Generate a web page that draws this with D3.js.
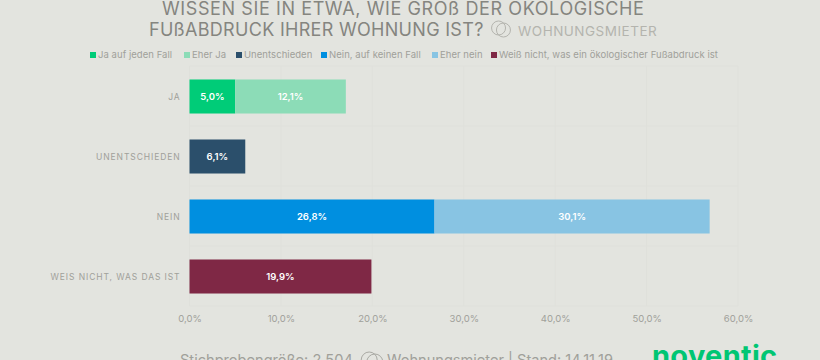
<!DOCTYPE html>
<html>
<head>
<meta charset="utf-8">
<script src="https://cdn.jsdelivr.net/npm/d3@7"></script>
<style>
html, body { margin: 0; padding: 0; background: #e3e4df; overflow: hidden; }
svg { display: block; }
text { font-family: "Inter", sans-serif; }
.domain { display: none; }
</style>
</head>
<body>
<div id="chart"></div>
<script>
const categories = ['JA', 'UNENTSCHIEDEN', 'NEIN', 'WEIS NICHT, WAS DAS IST'];
const seriesNames = ['Ja auf jeden Fall', 'Eher Ja', 'Unentschieden', 'Nein, auf keinen Fall', 'Eher nein', 'Weiß nicht, was ein ökologischer Fußabdruck ist'];
const seriesColors = ['#00cc78', '#8cdcb7', '#2b4f6b', '#008fe0', '#88c4e3', '#7f2845'];
const jaAufJeden = [5.0, 0, 0, 0];
const eherJa = [12.1, 0, 0, 0];
const unentschieden = [0, 6.1, 0, 0];
const neinAufKeinen = [0, 0, 26.8, 0];
const eherNein = [0, 0, 30.1, 0];
const weissNicht = [0, 0, 0, 19.9];
const xTicks = [0, 10, 20, 30, 40, 50, 60];
const legendX = [90, 184, 236, 321, 432, 491];

const allSeries = [jaAufJeden, eherJa, unentschieden, neinAufKeinen, eherNein, weissNicht];
const width = 820, height = 360;
const comma = v => v.toFixed(1).replace('.', ',') + '%';

const svg = d3.select('#chart').append('svg')
  .attr('width', width)
  .attr('height', height);

const x = d3.scaleLinear().domain([0, 60]).range([189.5, 738]);
const y = d3.scaleBand().domain(categories).range([66.5, 306.5]).paddingInner(0.433).paddingOuter(0.2165);
const band = d3.scaleBand().domain(categories).range([66, 306]);

// title
const titleG = svg.append('g').attr('fill', '#85857f').style('font-size', '18px');
titleG.append('text').attr('x', 162).attr('y', 15).style('letter-spacing', '0.6px').text('WISSEN SIE IN ETWA, WIE GROß DER ÖKOLOGISCHE');
titleG.append('text').attr('x', 149).attr('y', 36).style('letter-spacing', '0.3px').text('FUßABDRUCK IHRER WOHNUNG IST?');

function rings(g, cx, cy, r, color) {
  g.append('circle').attr('cx', cx - r * 0.35).attr('cy', cy - 1).attr('r', r).attr('fill', 'none').attr('stroke', color);
  g.append('circle').attr('cx', cx + r * 0.35).attr('cy', cy + 1).attr('r', r).attr('fill', 'none').attr('stroke', color);
}
rings(svg, 501, 29, 7, '#b4b4ae');
svg.append('text').attr('x', 518).attr('y', 36).attr('fill', '#b4b4ae')
  .style('font-size', '13.5px').style('letter-spacing', '0.5px').text('WOHNUNGSMIETER');

// legend
const legend = svg.append('g').selectAll('g').data(seriesNames).join('g')
  .attr('transform', (d, i) => `translate(${legendX[i]},50)`);
legend.append('rect').attr('y', 2).attr('width', 6).attr('height', 6).attr('fill', (d, i) => seriesColors[i]);
legend.append('text').attr('x', 8).attr('y', 7.5).attr('fill', '#a0a09a')
  .style('font-size', '9.5px').style('letter-spacing', '0.05px').text(d => d);

// grid
const grid = svg.append('g').attr('stroke', '#dfe0db');
grid.selectAll('line.v').data(xTicks).join('line').attr('class', 'v')
  .attr('x1', d => x(d)).attr('x2', d => x(d)).attr('y1', 66).attr('y2', 306);
grid.selectAll('line.h').data(d3.range(categories.length + 1)).join('line').attr('class', 'h')
  .attr('x1', x(0)).attr('x2', x(60)).attr('y1', d => 66 + d * band.bandwidth()).attr('y2', d => 66 + d * band.bandwidth());

// bars
const table = categories.map((c, i) => {
  const row = { cat: c };
  seriesNames.forEach((s, j) => { row[s] = allSeries[j][i]; });
  return row;
});
const stacked = d3.stack().keys(seriesNames)(table);
const layers = svg.append('g').selectAll('g').data(stacked).join('g')
  .attr('fill', (d, i) => seriesColors[i]);
layers.selectAll('rect').data(d => d.filter(p => p[1] > p[0])).join('rect')
  .attr('x', d => x(d[0]))
  .attr('y', d => y(d.data.cat))
  .attr('width', d => x(d[1]) - x(d[0]))
  .attr('height', y.bandwidth());
layers.selectAll('text').data(d => d.filter(p => p[1] > p[0])).join('text')
  .attr('x', d => x((d[0] + d[1]) / 2))
  .attr('y', d => y(d.data.cat) + y.bandwidth() / 2 + 3.5)
  .attr('text-anchor', 'middle')
  .attr('fill', '#fff')
  .style('font-size', '9.5px')
  .style('font-weight', 600)
  .text(d => comma(d[1] - d[0]));

// axes
const yAxis = svg.append('g').attr('transform', 'translate(189.5,1)')
  .call(d3.axisLeft(band).tickSize(0).tickPadding(9));
yAxis.selectAll('text').attr('fill', '#a0a09a').style('font-size', '8.5px').style('letter-spacing', '0.9px');

const xAxis = svg.append('g').attr('transform', 'translate(0,308)')
  .call(d3.axisBottom(x).tickValues(xTicks).tickSize(0).tickPadding(7).tickFormat(comma));
xAxis.selectAll('text').attr('fill', '#a0a09a').style('font-size', '9.5px');

// footer, cut by the bottom edge like the source
const foot = svg.append('g').attr('fill', '#a0a09a').style('font-size', '14.6px');
foot.append('text').attr('x', 180).attr('y', 364.5).text('Stichprobengröße: 2.504');
rings(svg, 372, 361, 8, '#a9a9a3');
foot.append('text').attr('x', 387).attr('y', 364.5).text('Wohnungsmieter | Stand: 14.11.19');

svg.append('text').attr('x', 652).attr('y', 366).attr('fill', '#00c673')
  .style('font-size', '29px').style('font-weight', 700).style('letter-spacing', '0.3px').text('noventic');
</script>
</body>
</html>
